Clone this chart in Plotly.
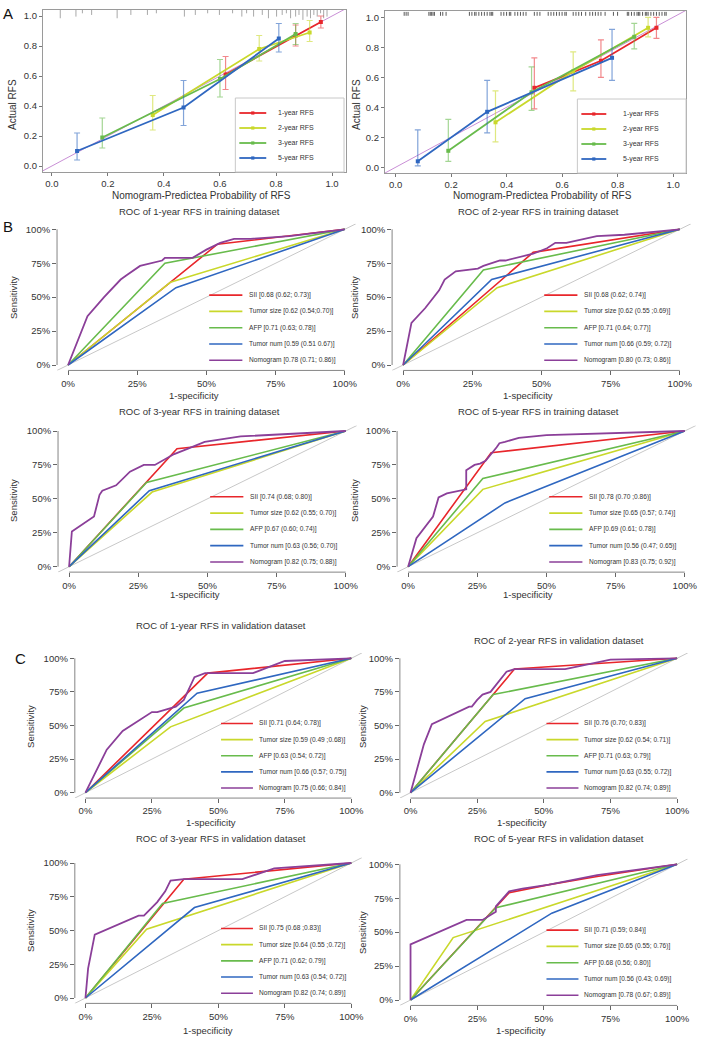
import plotly.graph_objects as go

W, H = 709, 1050
FONT = "Liberation Sans, Arial, sans-serif"
TXT = "#333333"

# ================= DATA =================
# ---- Panel A: calibration curves ----
cal_labels = ["1-year RFS", "2-year RFS", "3-year RFS", "5-year RFS"]

# training (left)
tr_1y_pred = [0.62, 0.87, 0.96]
tr_1y_obs = [0.61, 0.87, 0.96]
tr_1y_lo = [0.51, 0.80, 0.92]
tr_1y_hi = [0.73, 0.94, 1.00]
tr_2y_pred = [0.36, 0.74, 0.92]
tr_2y_obs = [0.34, 0.78, 0.89]
tr_2y_lo = [0.24, 0.70, 0.83]
tr_2y_hi = [0.47, 0.87, 0.97]
tr_3y_pred = [0.18, 0.60, 0.87]
tr_3y_obs = [0.19, 0.58, 0.88]
tr_3y_lo = [0.12, 0.46, 0.81]
tr_3y_hi = [0.32, 0.71, 0.95]
tr_5y_pred = [0.09, 0.47, 0.81]
tr_5y_obs = [0.10, 0.39, 0.85]
tr_5y_lo = [0.04, 0.27, 0.76]
tr_5y_hi = [0.22, 0.57, 0.95]

# validation (right)
va_1y_pred = [0.50, 0.74, 0.94]
va_1y_obs = [0.53, 0.71, 0.93]
va_1y_lo = [0.39, 0.60, 0.86]
va_1y_hi = [0.73, 0.85, 1.00]
va_2y_pred = [0.36, 0.64, 0.91]
va_2y_obs = [0.30, 0.64, 0.93]
va_2y_lo = [0.17, 0.51, 0.87]
va_2y_hi = [0.51, 0.77, 1.00]
va_3y_pred = [0.19, 0.49, 0.86]
va_3y_obs = [0.11, 0.50, 0.87]
va_3y_lo = [0.04, 0.38, 0.79]
va_3y_hi = [0.32, 0.67, 0.96]
va_5y_pred = [0.08, 0.33, 0.78]
va_5y_obs = [0.04, 0.37, 0.73]
va_5y_lo = [0.01, 0.23, 0.58]
va_5y_hi = [0.25, 0.58, 0.92]

# rug (distribution of predicted probabilities)
tr_rug_x = [0.03, 0.086, 0.109, 0.142, 0.233, 0.282, 0.341, 0.373, 0.473, 0.512, 0.556,
            0.598, 0.645, 0.678, 0.695, 0.72, 0.751, 0.773, 0.802, 0.822, 0.837, 0.852,
            0.87, 0.882, 0.896, 0.911, 0.923, 0.935, 0.947, 0.959, 0.97, 0.982]
tr_rug_n = [5, 4, 2, 3, 5, 3, 3, 2, 4, 3, 2, 3, 2, 4, 2, 4, 3, 5, 4, 3, 2, 5, 4, 3, 6, 4,
            5, 3, 4, 2, 5, 4]
va_rug_x = [0.031, 0.038, 0.045, 0.12, 0.125, 0.13, 0.135, 0.14, 0.162, 0.17, 0.182,
            0.266, 0.275, 0.285, 0.29, 0.30, 0.31, 0.32, 0.33, 0.34, 0.345, 0.35,
            0.38, 0.39, 0.40, 0.41, 0.415, 0.43, 0.44, 0.45, 0.46, 0.47, 0.50, 0.51, 0.52,
            0.55, 0.56, 0.57, 0.58, 0.59, 0.60, 0.61, 0.615, 0.64, 0.65, 0.66, 0.67, 0.685,
            0.70, 0.71, 0.72, 0.73, 0.74, 0.755, 0.785, 0.80, 0.835, 0.84, 0.85, 0.86,
            0.87, 0.875, 0.88, 0.89, 0.90, 0.905, 0.91, 0.92, 0.93, 0.94, 0.95, 0.96,
            0.97, 0.975]

# ---- Panels B / C: ROC curves (1-specificity, sensitivity) ----
roc_names = ["SII", "Tumor size", "AFP", "Tumor num", "Nomogram"]
roc_titles = ["ROC of 1-year RFS in training dataset", "ROC of 2-year RFS in training dataset",
              "ROC of 3-year RFS in training dataset", "ROC of 5-year RFS in training dataset",
              "ROC of 1-year RFS in validation dataset", "ROC of 2-year RFS in validation dataset",
              "ROC of 3-year RFS in validation dataset", "ROC of 5-year RFS in validation dataset"]

B1_sii = [(0, 0), (0.54, 0.89), (1, 1)]
B1_size = [(0, 0), (0.37, 0.61), (1, 1)]
B1_afp = [(0, 0), (0.35, 0.75), (1, 1)]
B1_num = [(0, 0), (0.39, 0.57), (1, 1)]
B1_nomo = [(0, 0), (0.07, 0.36), (0.13, 0.50), (0.19, 0.63), (0.21, 0.66), (0.26, 0.73),
           (0.34, 0.77), (0.35, 0.79), (0.45, 0.79), (0.50, 0.85), (0.55, 0.90), (0.60, 0.93),
           (0.66, 0.93), (0.80, 0.95), (1, 1)]
B1_auc = ["0.68 (0.62; 0.73)", "0.62 (0.54;0.70)", "0.71 (0.63; 0.78)", "0.59 (0.51 0.67)", "0.78 (0.71; 0.86)"]

B2_sii = [(0, 0), (0.47, 0.83), (1, 1)]
B2_size = [(0, 0), (0.34, 0.57), (1, 1)]
B2_afp = [(0, 0), (0.29, 0.70), (1, 1)]
B2_num = [(0, 0), (0.32, 0.63), (1, 1)]
B2_nomo = [(0, 0), (0.03, 0.31), (0.08, 0.42), (0.13, 0.55), (0.15, 0.63), (0.19, 0.69),
           (0.27, 0.71), (0.29, 0.73), (0.35, 0.77), (0.37, 0.77), (0.47, 0.82), (0.52, 0.86),
           (0.55, 0.90), (0.59, 0.90), (0.70, 0.95), (0.80, 0.96), (1, 1)]
B2_auc = ["0.68 (0.62; 0.74)", "0.62 (0.55 ;0.69)", "0.71 (0.64; 0.77)", "0.66 (0.59; 0.72)", "0.80 (0.73; 0.86)"]

B3_sii = [(0, 0), (0.39, 0.87), (1, 1)]
B3_size = [(0, 0), (0.30, 0.55), (1, 1)]
B3_afp = [(0, 0), (0.28, 0.62), (1, 1)]
B3_num = [(0, 0), (0.29, 0.56), (1, 1)]
B3_nomo = [(0, 0), (0.01, 0.26), (0.09, 0.37), (0.11, 0.53), (0.12, 0.56), (0.17, 0.60),
           (0.22, 0.70), (0.27, 0.75), (0.31, 0.75), (0.38, 0.83), (0.43, 0.87), (0.49, 0.92),
           (0.62, 0.96), (1, 1)]
B3_auc = ["0.74 (0.68; 0.80)", "0.62 (0.55; 0.70)", "0.67 (0.60; 0.74)", "0.63 (0.56; 0.70)", "0.82 (0.75; 0.88)"]

B4_sii = [(0, 0), (0.30, 0.84), (1, 1)]
B4_size = [(0, 0), (0.27, 0.57), (1, 1)]
B4_afp = [(0, 0), (0.27, 0.65), (1, 1)]
B4_num = [(0, 0), (0.35, 0.47), (1, 1)]
B4_nomo = [(0, 0), (0.03, 0.21), (0.09, 0.37), (0.11, 0.51), (0.14, 0.54), (0.21, 0.57),
           (0.21, 0.71), (0.24, 0.75), (0.26, 0.76), (0.28, 0.78), (0.32, 0.88), (0.33, 0.91),
           (0.35, 0.92), (0.40, 0.95), (0.50, 0.97), (1, 1)]
B4_auc = ["0.78 (0.70 ;0.86)", "0.65 (0.57; 0.74)", "0.69 (0.61; 0.78)", "0.56 (0.47; 0.65)", "0.83 (0.75; 0.92)"]

C1_sii = [(0, 0), (0.46, 0.89), (1, 1)]
C1_size = [(0, 0), (0.32, 0.49), (1, 1)]
C1_afp = [(0, 0), (0.37, 0.63), (1, 1)]
C1_num = [(0, 0), (0.42, 0.74), (1, 1)]
C1_nomo = [(0, 0), (0.08, 0.32), (0.14, 0.46), (0.25, 0.60), (0.27, 0.60), (0.34, 0.64),
           (0.37, 0.69), (0.41, 0.86), (0.45, 0.89), (0.63, 0.89), (0.75, 0.98), (1, 1)]
C1_auc = ["0.71 (0.64; 0.78)", "0.59 (0.49 ;0.68)", "0.63 (0.54; 0.72)", "0.66 (0.57; 0.75)", "0.75 (0.66; 0.84)"]

C2_sii = [(0, 0), (0.39, 0.92), (1, 1)]
C2_size = [(0, 0), (0.28, 0.53), (1, 1)]
C2_afp = [(0, 0), (0.31, 0.73), (1, 1)]
C2_num = [(0, 0), (0.43, 0.70), (1, 1)]
C2_nomo = [(0, 0), (0.05, 0.36), (0.08, 0.51), (0.22, 0.64), (0.23, 0.64), (0.25, 0.69),
           (0.27, 0.73), (0.30, 0.75), (0.36, 0.90), (0.39, 0.92), (0.58, 0.92), (0.75, 0.99), (1, 1)]
C2_auc = ["0.76 (0.70; 0.83)", "0.62 (0.54; 0.71)", "0.71 (0.63; 0.79)", "0.63 (0.55; 0.72)", "0.82 (0.74; 0.89)"]

C3_sii = [(0, 0), (0.37, 0.88), (1, 1)]
C3_size = [(0, 0), (0.23, 0.51), (1, 1)]
C3_afp = [(0, 0), (0.29, 0.70), (1, 1)]
C3_num = [(0, 0), (0.41, 0.67), (1, 1)]
C3_nomo = [(0, 0), (0.01, 0.22), (0.02, 0.32), (0.035, 0.47), (0.20, 0.61), (0.22, 0.61),
           (0.27, 0.71), (0.30, 0.79), (0.32, 0.87), (0.37, 0.88), (0.59, 0.88), (0.71, 0.96), (1, 1)]
C3_auc = ["0.75 (0.68 ;0.83)", "0.64 (0.55 ;0.72)", "0.71 (0.62; 0.79)", "0.63 (0.54; 0.72)", "0.82 (0.74; 0.89)"]

C4_sii = [(0, 0), (0.37, 0.79), (0.52, 0.85), (0.70, 0.91), (1, 1)]
C4_size = [(0, 0), (0.16, 0.46), (1, 1)]
C4_afp = [(0, 0), (0.32, 0.68), (1, 1)]
C4_num = [(0, 0), (0.53, 0.64), (1, 1)]
C4_nomo = [(0, 0), (0, 0.41), (0.21, 0.59), (0.27, 0.59), (0.32, 0.65), (0.32, 0.69),
           (0.37, 0.80), (0.42, 0.82), (0.52, 0.85), (0.70, 0.92), (1, 1)]
C4_auc = ["0.71 (0.59; 0.84)", "0.65 (0.55; 0.76)", "0.68 (0.56; 0.80)", "0.56 (0.43; 0.69)", "0.78 (0.67; 0.89)"]

roc_tick_vals = [0, 0.25, 0.5, 0.75, 1]
roc_tick_text = ["0%", "25%", "50%", "75%", "100%"]
cal_tick_vals = [0, 0.2, 0.4, 0.6, 0.8, 1.0]
cal_tick_text = ["0.0", "0.2", "0.4", "0.6", "0.8", "1.0"]

# ================= STYLE / LAYOUT =================
COLORS = ["#e8262b", "#c9d82b", "#68bb4c", "#2f67c0", "#8b3f99"]
ERR_COLORS = ["rgba(232,38,43,0.55)", "rgba(201,216,43,0.6)", "rgba(104,187,76,0.6)", "rgba(47,103,192,0.6)"]


def fx(px):
    return px / W


def fy(py):
    return 1 - py / H


fig = go.Figure()
shapes = []
annotations = []
layout = {}


def axis_keys(k):
    return ("xaxis" if k == 1 else f"xaxis{k}", "yaxis" if k == 1 else f"yaxis{k}",
            "x" if k == 1 else f"x{k}", "y" if k == 1 else f"y{k}")


def text(x, y, s, size, anchor="center", rot=0, color=TXT, yanchor="middle"):
    annotations.append(dict(x=fx(x), y=fy(y), xref="paper", yref="paper", text=s, showarrow=False,
                            xanchor=anchor, yanchor=yanchor, textangle=rot,
                            font=dict(family=FONT, size=size, color=color)))


# ---------- Panel A ----------
cal_geom = [
    # value0 px, value1 px (x), value0 px, value1 px (y), L, R, T, B
    (52, 333, 166, 16, 43, 347, 10, 172),
    (396.7, 675, 167.3, 17.3, 386, 688, 11, 173),
]
cal_sets = [
    [(tr_1y_pred, tr_1y_obs, tr_1y_lo, tr_1y_hi), (tr_2y_pred, tr_2y_obs, tr_2y_lo, tr_2y_hi),
     (tr_3y_pred, tr_3y_obs, tr_3y_lo, tr_3y_hi), (tr_5y_pred, tr_5y_obs, tr_5y_lo, tr_5y_hi)],
    [(va_1y_pred, va_1y_obs, va_1y_lo, va_1y_hi), (va_2y_pred, va_2y_obs, va_2y_lo, va_2y_hi),
     (va_3y_pred, va_3y_obs, va_3y_lo, va_3y_hi), (va_5y_pred, va_5y_obs, va_5y_lo, va_5y_hi)],
]

for i, (gx0, gx1, gy0, gy1, L, R, T, B) in enumerate(cal_geom):
    k = i + 1
    xk, yk, xr, yr = axis_keys(k)
    xlo, xhi = (L - gx0) / (gx1 - gx0), (R - gx0) / (gx1 - gx0)
    ylo, yhi = (gy0 - B) / (gy0 - gy1), (gy0 - T) / (gy0 - gy1)
    common = dict(showgrid=False, zeroline=False, showline=True, mirror=True, linecolor="#9a9a9a",
                  linewidth=1, ticks="outside", ticklen=3, tickcolor="#777", tickwidth=1,
                  tickfont=dict(family=FONT, size=9.5, color=TXT))
    layout[xk] = dict(domain=[fx(L), fx(R)], range=[xlo, xhi], anchor=yr,
                      tickvals=cal_tick_vals, ticktext=cal_tick_text, **common)
    layout[yk] = dict(domain=[fy(B), fy(T)], range=[ylo, yhi], anchor=xr,
                      tickvals=cal_tick_vals, ticktext=cal_tick_text, **common)
    # ideal line
    fig.add_trace(go.Scatter(x=[-0.2, 1.2], y=[-0.2, 1.2], mode="lines",
                             line=dict(color="#c98fd6", width=1), xaxis=xr, yaxis=yr, hoverinfo="skip"))
    # rug
    rx, ry = [], []
    if i == 0:
        for v, n in zip(tr_rug_x, tr_rug_n):
            rx += [v, v, None]
            ry += [yhi, yhi - 0.011 * n, None]
        rcol, rw = "#a8a8a8", 1
    else:
        for v in va_rug_x:
            rx += [v, v, None]
            ry += [1.036, 1.01, None]
        rcol, rw = "#5a5a5a", 1
    fig.add_trace(go.Scatter(x=rx, y=ry, mode="lines", line=dict(color=rcol, width=rw),
                             xaxis=xr, yaxis=yr, hoverinfo="skip"))
    for j, (p, o, lo, hi) in enumerate(cal_sets[i]):
        fig.add_trace(go.Scatter(
            x=p, y=o, mode="lines+markers", xaxis=xr, yaxis=yr,
            line=dict(color=COLORS[j], width=1.8),
            marker=dict(symbol="square", size=4, color=COLORS[j]),
            error_y=dict(type="data", symmetric=False,
                         array=[h - v for h, v in zip(hi, o)],
                         arrayminus=[v - l for l, v in zip(lo, o)],
                         color=ERR_COLORS[j], thickness=1.2, width=3)))
    # legend box
    lgx = [(236, 345, 240, 267, 277), (579, 688, 583, 608, 623)][i]
    shapes.append(dict(type="rect", xref="paper", yref="paper", x0=fx(lgx[0]), x1=fx(lgx[1]),
                       y0=fy(B), y1=fy(B - 74), line=dict(color="#c8c8c8", width=1),
                       fillcolor="white", layer="above"))
    for j, lab in enumerate(cal_labels):
        yy = B - 59 + 15 * j
        shapes.append(dict(type="line", xref="paper", yref="paper", x0=fx(lgx[2]), x1=fx(lgx[3]),
                           y0=fy(yy), y1=fy(yy), line=dict(color=COLORS[j], width=1.8), layer="above"))
        mx = (lgx[2] + lgx[3]) / 2
        shapes.append(dict(type="rect", xref="paper", yref="paper", x0=fx(mx - 1.6), x1=fx(mx + 1.6),
                           y0=fy(yy + 1.6), y1=fy(yy - 1.6), line=dict(width=0),
                           fillcolor=COLORS[j], layer="above"))
        text(lgx[4], yy, lab, 7, anchor="left")

text(12, 104, "Actual RFS", 10, rot=-90)
text(357, 104, "Actual RFS", 10, rot=-90)
text(202, 195.5, "Nomogram-Predictea Probability of RFS", 10)
text(544, 195.5, "Nomogram-Predictea Probability of RFS", 10)

# ---------- Panels B / C ----------
roc_sets = [
    (B1_sii, B1_size, B1_afp, B1_num, B1_nomo, B1_auc),
    (B2_sii, B2_size, B2_afp, B2_num, B2_nomo, B2_auc),
    (B3_sii, B3_size, B3_afp, B3_num, B3_nomo, B3_auc),
    (B4_sii, B4_size, B4_afp, B4_num, B4_nomo, B4_auc),
    (C1_sii, C1_size, C1_afp, C1_num, C1_nomo, C1_auc),
    (C2_sii, C2_size, C2_afp, C2_num, C2_nomo, C2_auc),
    (C3_sii, C3_size, C3_afp, C3_num, C3_nomo, C3_auc),
    (C4_sii, C4_size, C4_afp, C4_num, C4_nomo, C4_auc),
]
roc_geom = [
    # x0px, x1px, y0px, y1px, title x,y, xlabel x,y, ylabel x,y
    (68.3, 345.7, 365, 229.3, 200, 211, 195, 395, 13, 297),
    (404.3, 681.7, 365, 229.3, 540, 211, 529, 395, 355, 297),
    (69.3, 346.7, 566.7, 431, 200, 411, 196, 594, 13, 500),
    (409.3, 686.7, 566.7, 431, 540, 411, 529, 594, 355, 500),
    (85.7, 352.3, 792.7, 658.3, 222, 625, 212, 822, 30, 726),
    (411.7, 679, 792.7, 658.3, 561, 640, 523, 822, 363, 726),
    (85.7, 352.3, 998, 863, 222, 838, 209, 1030, 30, 930),
    (411.7, 679, 1000, 864.3, 561, 838, 522, 1030, 363, 932),
]
legend_rows = [0.515, 0.395, 0.275, 0.155, 0.035]
PAD = 0.04

for i, (curves, g) in enumerate(zip(roc_sets, roc_geom)):
    k = i + 3
    xk, yk, xr, yr = axis_keys(k)
    x0, x1, y0, y1, tx, ty, lx, ly, sx, sy = g
    L = x0 - PAD * (x1 - x0)
    R = x1 + PAD * (x1 - x0)
    B = y0 + PAD * (y0 - y1)
    T = y1 - PAD * (y0 - y1)
    common = dict(showgrid=False, zeroline=False, showline=False, ticks="outside", ticklen=4,
                  tickcolor="#666", tickwidth=0.8, range=[-PAD, 1 + PAD],
                  tickvals=roc_tick_vals, ticktext=roc_tick_text,
                  tickfont=dict(family=FONT, size=9.5, color=TXT))
    layout[xk] = dict(domain=[fx(L), fx(R)], anchor=yr, **common)
    layout[yk] = dict(domain=[fy(B), fy(T)], anchor=xr, **common)
    shapes.append(dict(type="line", xref=f"{xr} domain", yref=yr, x0=0, x1=0, y0=0, y1=1,
                       line=dict(color="#666", width=0.8)))
    shapes.append(dict(type="line", xref=xr, yref=f"{yr} domain", x0=0, x1=1, y0=0, y1=0,
                       line=dict(color="#666", width=0.8)))
    fig.add_trace(go.Scatter(x=[-0.2, 1.2], y=[-0.2, 1.2], mode="lines",
                             line=dict(color="#c8c8c8", width=1), xaxis=xr, yaxis=yr, hoverinfo="skip"))
    for j in range(5):
        pts = curves[j]
        fig.add_trace(go.Scatter(x=[p[0] for p in pts], y=[p[1] for p in pts], mode="lines",
                                 line=dict(color=COLORS[j], width=1.6 if j < 4 else 1.8),
                                 xaxis=xr, yaxis=yr, name=roc_names[j]))
        ry = legend_rows[j]
        shapes.append(dict(type="line", xref=xr, yref=yr, x0=0.51, x1=0.63, y0=ry, y1=ry,
                           line=dict(color=COLORS[j], width=1.6)))
        annotations.append(dict(x=0.645, y=ry, xref=xr, yref=yr, showarrow=False, xanchor="left",
                                yanchor="middle", text=f"{roc_names[j]} [{curves[5][j]}]",
                                font=dict(family=FONT, size=6.6, color=TXT)))
    text(tx, ty, roc_titles[i], 9.5)
    text(lx, ly, "1-specificity", 9.5)
    text(sx, sy, "Sensitivity", 9.5, rot=-90)

# panel letters
text(8, 14, "A", 15, color="#111")
text(8, 227, "B", 15, color="#111")
text(21, 658, "C", 15, color="#111")

fig.update_layout(width=W, height=H, margin=dict(l=0, r=0, t=0, b=0), showlegend=False,
                  paper_bgcolor="white", plot_bgcolor="white", shapes=shapes, annotations=annotations,
                  font=dict(family=FONT, color=TXT), **layout)
fig.write_html("out.html", config={"displayModeBar": False},
               post_script="document.body.style.margin='0';document.body.style.padding='0';")
